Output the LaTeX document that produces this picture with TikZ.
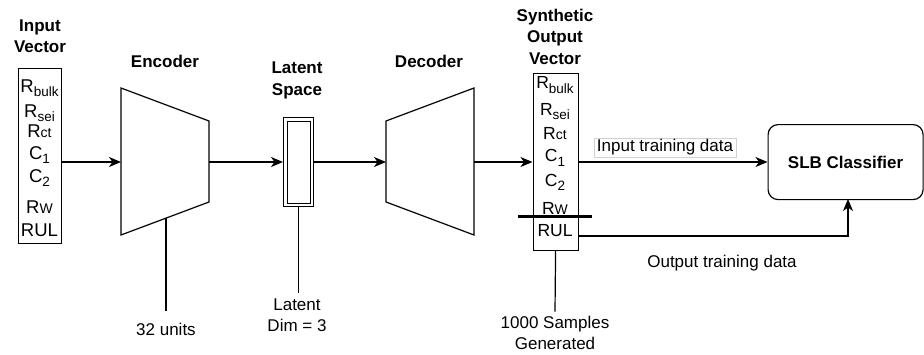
\documentclass[tikz,border=0pt]{standalone}
\usepackage{fontspec}
\setmainfont{Liberation Sans}
\usetikzlibrary{arrows.meta,calc}

% subscript lowered below the baseline, and a small suffix kept on the baseline
\newcommand{\lowsub}[1]{\raisebox{-4.5pt}{\fontsize{13.5}{13.5}\selectfont #1}}
\newcommand{\smallsuf}[1]{{\fontsize{14}{14}\selectfont #1}}

\tikzset{
  wire/.style={line width=1.2pt},
  flow/.style={wire, -{Stealth[length=12pt,width=10pt,inset=3.5pt]}},
  title/.style={font=\bfseries\fontsize{17}{21.5}\selectfont, align=center, inner sep=0pt},
  note/.style={font=\fontsize{17}{21}\selectfont, align=center, inner sep=0pt},
  cell/.style={anchor=base, inner sep=0pt, font=\fontsize{18.5}{18.5}\selectfont},
  ocell/.style={anchor=base, inner sep=0pt, font=\fontsize{17.5}{17.5}\selectfont},
  vecbox/.style={draw, wire, anchor=north west, inner sep=0pt},
}

\begin{document}
\begin{tikzpicture}[x=1pt, y=-1pt]
\useasboundingbox (0,0) rectangle (924,354);

% ---------- titles ----------
\node[title] (tIn)  at (40,36)   {Input\\Vector};
\node[title] (tEnc) at (165,61)  {Encoder};
\node[title] (tLat) at (297,80.5){Latent\\Space};
\node[title] (tDec) at (429,61)  {Decoder};
\node[title] (tOut) at (555,36.5){Synthetic\\Output\\Vector};

% ---------- input vector ----------
\node[vecbox, minimum width=43pt, minimum height=175pt] (inbox) at (18,68) {};
\node[cell] (i1) at (39.5,92)  {R\lowsub{bulk}};
\node[cell] (i2) at (39.5,117) {R\lowsub{sei}};
\node[cell] (i3) at (39.5,137.5) {R\smallsuf{ct}};
\node[cell] (i4) at (39.5,159) {C\lowsub{1}};
\node[cell] (i5) at (39.5,182) {C\lowsub{2}};
\node[cell] (i6) at (39.5,213) {R\smallsuf{W}};
\node[cell] (i7) at (39.5,236.5) {RUL};

% ---------- encoder ----------
\coordinate (e1) at (121,88);
\coordinate (e2) at (209,121);
\coordinate (e3) at (209,202);
\coordinate (e4) at (121,235);
\draw[wire, line join=miter] (e1) -- (e2) -- (e3) -- (e4) -- cycle;
\coordinate (encIn)  at (121,162);
\coordinate (encOut) at (209,162);
\coordinate (encBot) at (166,218.1);
\coordinate (encEnd) at (166,311);
\node[note] (nEnc) at (166,329) {32 units};

% ---------- latent space ----------
\node[draw, wire, anchor=north west, minimum width=30pt, minimum height=89pt, inner sep=0pt] (lat) at (283,117) {};
\node[draw, line width=1pt, minimum width=23pt, minimum height=82pt, inner sep=0pt] (latIn) at (lat.center) {};
\coordinate (latEnd) at (lat.south |- 0,293);
\node[note] (nLat) at (297,315) {Latent\\Dim = 3};

% ---------- decoder ----------
\coordinate (d1) at (386,121);
\coordinate (d2) at (474,88);
\coordinate (d3) at (474,235);
\coordinate (d4) at (386,202);
\draw[wire, line join=miter] (d1) -- (d2) -- (d3) -- (d4) -- cycle;
\coordinate (decIn)  at (386,162);
\coordinate (decOut) at (474,162);

% ---------- synthetic output vector ----------
\node[vecbox, minimum width=45pt, minimum height=177pt] (outbox) at (532.5,72.5) {};
\node[ocell] (o1) at (555,88.5)  {R\lowsub{bulk}};
\node[ocell] (o2) at (555,115)   {R\lowsub{sei}};
\node[ocell] (o3) at (555,139)   {R\smallsuf{ct}};
\node[ocell] (o4) at (555,161.5) {C\lowsub{1}};
\node[ocell] (o5) at (555,186)   {C\lowsub{2}};
\node[ocell] (o6) at (555,214.5) {R\smallsuf{W}};
\node[ocell] (o7) at (555,236.5) {RUL};
\coordinate (cutL) at (518,216);
\coordinate (cutR) at (592,216);
\draw[line width=3pt] (cutL) -- (cutR);
\coordinate (outIn)   at (outbox.west |- 0,162);
\coordinate (outData) at (outbox.east |- 0,162);
\coordinate (outRUL)  at (outbox.east |- 0,236);
\coordinate (outEnd)  at (555,311.5);
\node[note] (nOut) at (555,333) {1000 Samples\\Generated};

% ---------- classifier ----------
\node[draw, wire, rounded corners=10pt, anchor=north west, minimum width=155pt, minimum height=75pt,
      font=\bfseries\fontsize{17}{20}\selectfont] (cls) at (767.5,124) {SLB Classifier};
\coordinate (clsIn)  at (cls.west |- 0,162);
\coordinate (turn)   at (848,236);
\coordinate (clsBot) at (848,199);

% ---------- connectors ----------
\draw[flow] (inbox.east |- encIn) -- (encIn);
\draw[flow] (encOut) -- (lat.west |- encOut);
\draw[flow] (lat.east |- decIn) -- (decIn);
\draw[flow] (decOut) -- (outIn);
\draw[wire] (encBot) -- (encEnd);
\draw[wire] (lat.south) -- (latEnd);
\draw[wire] (outbox.south) -- (outEnd);
\draw[flow] (outData) -- (clsIn);
\draw[flow] (outRUL) -- (turn) -- (clsBot);

% ---------- data labels ----------
\node[note, draw=black!18, line width=0.6pt, fill=white, minimum width=142pt, minimum height=19pt] (lIn) at (665,147.5) {Input training data};
\node[note] (lOut) at (722,263) {Output training data};
\end{tikzpicture}
\end{document}
